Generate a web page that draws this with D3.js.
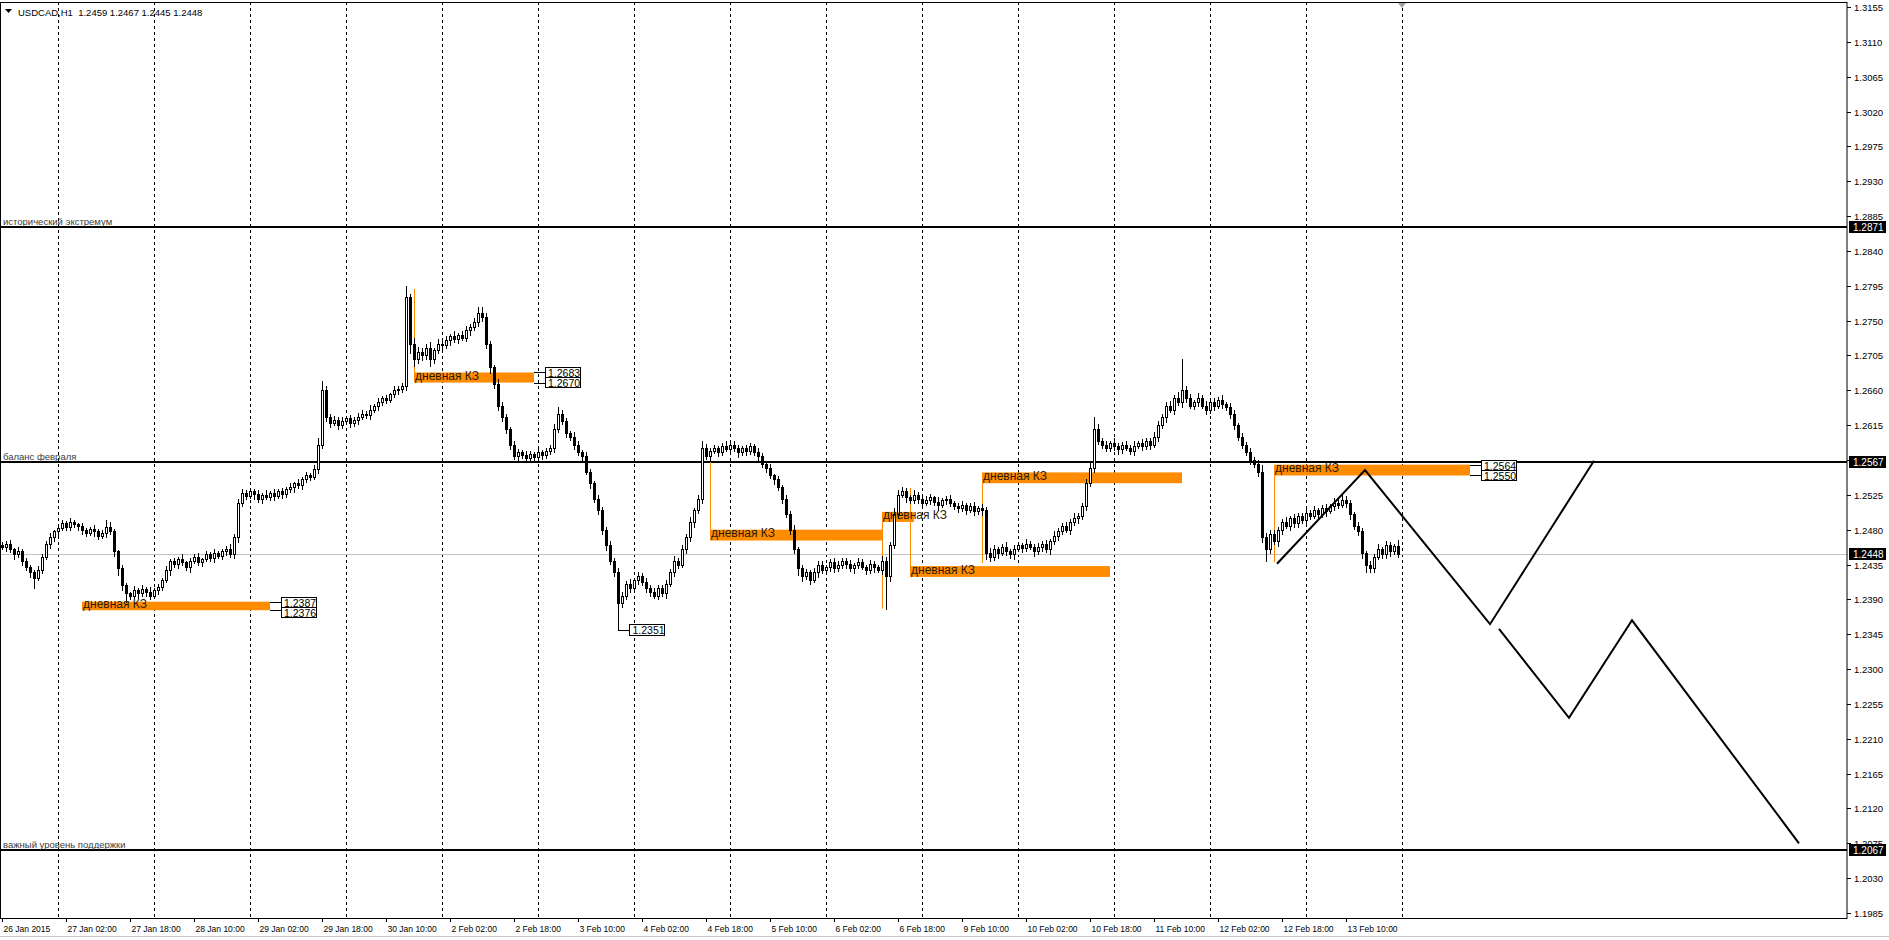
<!doctype html>
<html>
<head>
<meta charset="utf-8">
<script src="https://d3js.org/d3.v7.min.js"></script>
<style>
  body { margin: 0; background: #fff; }
  svg { display: block; font-family: "Liberation Sans", Arial, sans-serif; }
</style>
<title>USDCAD H1</title>
</head>
<body>
<svg width="1889" height="940"></svg>
<script>
// ---- data (prices in pips above 1.2000) ----
var symbol = "USDCAD,H1";
var lastQuote = [1.2459, 1.2467, 1.2445, 1.2448];
var firstBarTime = new Date(2015, 0, 26, 10, 0);
var firstOpen = 460;

var closes = [
  458,462,455,448,452,440,432,425,418,428,
  445,462,470,478,482,488,484,490,487,485,
  480,476,481,478,472,476,484,478,452,430,
  408,398,395,402,398,404,400,395,402,406,
  415,428,440,436,442,438,432,440,445,438,
  442,448,444,450,446,452,455,448,470,515,
  528,524,530,526,520,525,522,528,524,530,
  526,532,535,540,538,545,550,548,558,590,
  660,625,618,622,615,620,624,618,622,626,
  630,628,635,640,645,650,648,655,660,662,
  665,780,720,700,710,705,715,700,712,720,
  718,725,730,726,732,728,738,742,748,760,
  755,720,690,668,640,625,610,590,575,580,
  576,572,578,574,580,576,582,585,610,630,
  620,605,600,590,580,575,555,540,520,505,
  480,460,440,425,385,395,410,405,415,420,
  412,405,400,395,405,398,410,425,440,435,
  455,470,490,505,520,585,575,582,585,580,
  588,584,590,586,580,585,582,588,580,575,
  565,560,550,545,535,520,500,480,455,430,
  420,425,415,425,435,428,432,438,430,435,
  440,436,430,434,438,432,428,436,432,428,
  440,420,460,500,525,530,522,518,525,520,
  515,518,522,516,512,518,520,514,510,508,
  512,506,510,504,508,505,450,445,455,450,
  458,452,448,455,460,456,462,458,452,458,
  462,455,465,472,478,485,480,490,495,498,
  510,540,560,610,595,590,585,592,588,584,
  590,586,582,588,592,588,595,590,600,615,
  625,640,635,650,645,660,650,640,645,650,
  640,635,645,640,648,642,638,630,615,600,
  590,580,570,565,555,470,455,475,465,480,
  490,485,495,488,498,492,502,498,505,500,
  508,504,510,515,512,518,514,500,485,478,
  450,435,430,445,455,448,460,452,459,448
];
var wickUp = [
  4,3,5,2,6,3,4,2,3,5, 3,4,6,2,5,4,3,5,3,2, 4,2,3,5,3,4,8,6,3,2, 4,3,2,5,3,4,2,6,3,4,
  3,5,2,4,3,6,2,4,3,5, 2,4,3,5,2,3,4,6,5,4, 5,3,4,2,5,3,6,2,4,3, 4,3,5,2,6,3,4,3,5,8,
  12,6,4,5,3,6,2,4,3,5, 4,3,6,2,5,3,4,2,5,3, 4,15,5,8,6,4,5,7,3,6, 4,5,3,6,2,4,5,3,6,7,
  8,5,4,3,6,5,4,3,5,4, 3,5,4,2,6,3,4,5,6,8, 5,4,3,6,4,3,5,4,3,5, 4,3,5,4,6,5,4,6,3,5,
  4,6,3,5,4,3,5,4,6,3, 5,4,6,3,5,10,6,4,5,3, 4,6,3,5,4,3,5,4,3,5, 4,3,5,2,4,3,5,4,6,3,
  5,4,3,6,4,5,3,4,6,5, 3,4,5,3,6,4,3,5,4,3, 6,5,4,8,6,5,4,3,6,4, 3,5,4,2,6,3,4,5,3,4,
  5,3,4,6,3,5,4,6,5,3, 4,6,3,5,4,3,6,4,3,5, 4,5,3,6,4,3,5,4,6,3, 5,6,8,15,6,4,5,3,6,4,
  3,5,4,6,3,5,4,3,6,5, 4,5,6,4,8,40,6,5,3,6, 4,6,3,5,4,6,3,5,4,3, 5,3,6,4,5,8,6,4,5,3,
  4,6,3,5,4,3,6,4,5,3, 4,5,3,6,4,8,5,4,3,5, 4,3,5,4,6,3,5,4,3,8
];
var wickDown = [
  3,5,4,6,3,5,4,6,13,3, 4,3,5,4,6,3,5,4,3,6, 5,4,3,6,4,3,5,4,6,8, 6,12,5,3,6,4,5,4,3,5,
  4,3,6,4,5,3,4,6,3,4, 5,3,4,6,3,4,5,3,4,6, 4,5,3,6,4,5,3,4,6,3, 5,4,3,6,4,5,3,4,3,5,
  5,4,6,3,5,4,3,6,4,5, 3,4,5,3,6,4,5,3,4,5, 4,5,12,8,5,6,4,8,5,4, 5,3,6,4,5,3,4,6,4,5,
  5,6,8,5,6,4,5,6,4,5, 4,5,3,6,4,5,3,4,5,4, 3,5,4,6,4,5,3,6,4,5, 5,6,4,5,34,5,4,6,3,5,
  4,5,6,3,5,4,6,3,5,4, 3,5,4,6,3,5,4,6,3,5, 4,3,5,4,6,3,5,4,3,6, 4,5,3,6,4,5,3,6,5,8,
  6,4,5,3,6,4,3,5,4,3, 4,5,3,6,4,3,5,4,6,3, 5,42,6,4,5,3,6,4,3,5, 4,3,5,4,6,3,5,4,3,5,
  4,6,3,5,4,6,8,5,4,6, 3,5,4,6,3,5,4,3,6,4, 5,4,6,3,5,4,3,5,4,6, 4,5,3,6,4,5,3,4,5,6,
  5,3,4,6,3,5,4,6,3,5, 4,6,3,5,4,6,5,3,4,5, 3,5,4,6,3,5,4,6,5,4, 4,3,5,4,6,6,15,5,4,6,
  5,3,6,4,5,3,6,4,3,5, 4,6,3,5,4,3,5,6,4,5, 6,10,5,4,3,5,4,6,3,3
];

var priceTicks = [1.3155,1.3110,1.3065,1.3020,1.2975,1.2930,1.2885,1.2840,1.2795,1.2750,
  1.2705,1.2660,1.2615,1.2570,1.2525,1.2480,1.2435,1.2390,1.2345,1.2300,1.2255,1.2210,
  1.2165,1.2120,1.2075,1.2030,1.1985];
var timeLabels = ["26 Jan 2015","27 Jan 02:00","27 Jan 18:00","28 Jan 10:00","29 Jan 02:00",
  "29 Jan 18:00","30 Jan 10:00","2 Feb 02:00","2 Feb 18:00","3 Feb 10:00","4 Feb 02:00",
  "4 Feb 18:00","5 Feb 10:00","6 Feb 02:00","6 Feb 18:00","9 Feb 10:00","10 Feb 02:00",
  "10 Feb 18:00","11 Feb 10:00","12 Feb 02:00","12 Feb 18:00","13 Feb 10:00"];
var labelStep = 16; // bars between time labels

var levelPrices = [1.2871, 1.2567, 1.2067];
var levelNames = ["исторический экстремум", "баланс февраля", "важный уровень поддержки"];

// daily control zones ("дневная КЗ")
var zoneTop    = [1.2387, 1.2683, 1.2480, 1.2503, 1.2433, 1.2554, 1.2564];
var zoneBottom = [1.2376, 1.2670, 1.2466, 1.2490, 1.2419, 1.2540, 1.2550];
var zoneFrom   = [20, 103, 177, 220, 227, 245, 318];
var zoneTo     = [67, 133, 220, 228, 277, 295, 367];
var zoneReach  = [null, 1.2791, 1.2585, 1.2378, 1.2534, 1.2437, 1.2438];
var zoneTagged = [true, true, false, false, false, false, true];

var lowMark = [154, 1.2351];

// projected path (bar index, price)
var projA = [[318.75, 1.2436], [340.75, 1.2557], [372, 1.2358], [398, 1.2569]];
var projB = [[374.25, 1.2352], [391.75, 1.2237], [407.5, 1.2363], [449.25, 1.2075]];

// ---- layout ----
var svg = d3.select("svg");
var plotRight = 1847, plotTop = 2, plotBottom = 918;
var x = d3.scaleLinear().domain([0, 350]).range([2, 1402]);
var y = d3.scaleLinear().domain([1.1985, 1.3155]).range([913, 7]);
var orange = "#ff8c00";
var fmt = d3.format(".4f");

var bars = closes.map(function(c, i) {
  var o = i ? closes[i - 1] : firstOpen;
  return {
    i: i,
    o: 1.2 + o / 10000,
    c: 1.2 + c / 10000,
    h: 1.2 + (Math.max(o, c) + wickUp[i]) / 10000,
    l: 1.2 + (Math.min(o, c) - wickDown[i]) / 10000
  };
});

// bar times (hourly, weekends skipped)
var times = [];
var t = new Date(firstBarTime);
for (var k = 0; k <= closes.length; k++) {
  times.push(new Date(t));
  t = new Date(t.getTime() + 3600000);
  while (t.getDay() === 0 || t.getDay() === 6) t = new Date(t.getTime() + 3600000);
}

svg.append("rect").attr("width", 1889).attr("height", 940).attr("fill", "#fff");

svg.append("clipPath").attr("id", "plot")
  .append("rect").attr("x", 0).attr("y", plotTop).attr("width", plotRight).attr("height", plotBottom - plotTop);

var g = svg.append("g").attr("clip-path", "url(#plot)");

// day grid
var dayBars = d3.range(times.length).filter(function(i) { return i > 0 && times[i].getHours() === 0; });
g.selectAll(".grid").data(dayBars).enter().append("line")
  .attr("x1", function(d) { return Math.round(x(d)) + 0.5; })
  .attr("x2", function(d) { return Math.round(x(d)) + 0.5; })
  .attr("y1", plotTop).attr("y2", plotBottom)
  .attr("stroke", "#000").attr("stroke-dasharray", "3,3");

// bid line
g.append("line").attr("x1", 0).attr("x2", plotRight)
  .attr("y1", Math.round(y(lastQuote[3])) + 0.5).attr("y2", Math.round(y(lastQuote[3])) + 0.5)
  .attr("stroke", "#c0c0c0");

// key levels
levelPrices.forEach(function(p, i) {
  var yy = Math.round(y(p));
  g.append("line").attr("x1", 0).attr("x2", plotRight).attr("y1", yy).attr("y2", yy)
    .attr("stroke", "#000").attr("stroke-width", 2);
  g.append("text").attr("x", 3).attr("y", yy - 2)
    .attr("font-size", 9.5).attr("fill", "#3c3c3c").text(levelNames[i]);
});

// zones
zoneTop.forEach(function(top, i) {
  var x0 = x(zoneFrom[i]), x1 = x(zoneTo[i]);
  g.append("rect").attr("x", x0).attr("y", y(top))
    .attr("width", x1 - x0).attr("height", y(zoneBottom[i]) - y(top))
    .attr("fill", orange);
  if (zoneReach[i] !== null) {
    var mid = (top + zoneBottom[i]) / 2;
    g.append("line").attr("x1", Math.round(x0) + 0.5).attr("x2", Math.round(x0) + 0.5)
      .attr("y1", y(mid)).attr("y2", y(zoneReach[i]))
      .attr("stroke", orange).attr("stroke-width", 1);
  }
});

// candles
var cg = g.append("g");
bars.forEach(function(b) {
  var cx = Math.round(x(b.i));
  cg.append("line").attr("x1", cx + 0.5).attr("x2", cx + 0.5)
    .attr("y1", Math.round(y(b.h))).attr("y2", Math.round(y(b.l)) + 1)
    .attr("stroke", "#000");
  var yt = Math.round(y(Math.max(b.o, b.c))), yb = Math.round(y(Math.min(b.o, b.c)));
  if (yb - yt < 1) {
    cg.append("rect").attr("x", cx - 1).attr("y", yt).attr("width", 3).attr("height", 1).attr("fill", "#000");
  } else if (b.c > b.o) {
    cg.append("rect").attr("x", cx - 0.5).attr("y", yt + 0.5).attr("width", 2).attr("height", yb - yt)
      .attr("fill", "#fff").attr("stroke", "#000");
  } else {
    cg.append("rect").attr("x", cx - 1).attr("y", yt).attr("width", 3).attr("height", yb - yt + 1)
      .attr("fill", "#000");
  }
});

// zone captions and price tags
zoneTop.forEach(function(top, i) {
  var x0 = x(zoneFrom[i]), x1 = x(zoneTo[i]);
  g.append("text").attr("x", x0 + 1).attr("y", (y(top) + y(zoneBottom[i])) / 2 + 2)
    .attr("font-size", 12).attr("fill", "#2a1a08").text("дневная КЗ");
  if (!zoneTagged[i]) return;
  var yA = Math.round(y(top)), yB = Math.round(y(zoneBottom[i]));
  var bx = x1 + 11, bw = 35, bh = 10;
  var tops = [yA - 5, yA + 5];
  [top, zoneBottom[i]].forEach(function(p, j) {
    var yl = (j ? yB : yA) + 0.5;
    g.append("line").attr("x1", x1).attr("x2", bx).attr("y1", yl).attr("y2", yl).attr("stroke", "#000");
    g.append("rect").attr("x", Math.round(bx) + 0.5).attr("y", tops[j] + 0.5).attr("width", bw).attr("height", bh)
      .attr("fill", "#fff").attr("stroke", "#000");
    g.append("text").attr("x", bx + 3).attr("y", tops[j] + bh - 0.5)
      .attr("font-size", 10.5).attr("fill", "#000").text(fmt(p));
  });
});

// low tag
(function() {
  var lx = Math.round(x(lowMark[0])) + 0.5, ly = Math.round(y(lowMark[1])) + 0.5;
  g.append("line").attr("x1", lx).attr("x2", lx + 11).attr("y1", ly).attr("y2", ly).attr("stroke", "#000");
  g.append("rect").attr("x", lx + 11).attr("y", ly - 6).attr("width", 35).attr("height", 11)
    .attr("fill", "#fff").attr("stroke", "#000");
  g.append("text").attr("x", lx + 14).attr("y", ly + 3.5).attr("font-size", 10.5).text(fmt(lowMark[1]));
})();

// projection zigzags
var line = d3.line().x(function(d) { return x(d[0]); }).y(function(d) { return y(d[1]); });
[projA, projB].forEach(function(p) {
  g.append("path").attr("d", line(p)).attr("fill", "none").attr("stroke", "#000").attr("stroke-width", 2);
});

// chart shift marker
svg.append("path").attr("d", "M" + (x(350) - 4) + ",3 h8 l-4,5 z").attr("fill", "#a0a0a0");

// frame
svg.append("rect").attr("x", 0.5).attr("y", plotTop + 0.5).attr("width", plotRight - 0.5).attr("height", plotBottom - plotTop)
  .attr("fill", "none").attr("stroke", "#000");

// price axis
var ax = svg.append("g");
priceTicks.forEach(function(p) {
  var yy = Math.round(y(p)) + 0.5;
  ax.append("line").attr("x1", plotRight).attr("x2", plotRight + 4).attr("y1", yy).attr("y2", yy).attr("stroke", "#000");
  ax.append("text").attr("x", plotRight + 7).attr("y", yy + 3.5).attr("font-size", 9.5).attr("fill", "#000").text(fmt(p));
});
levelPrices.concat([lastQuote[3]]).forEach(function(p) {
  var yy = Math.round(y(p));
  ax.append("rect").attr("x", plotRight + 2).attr("y", yy - 6).attr("width", 37).attr("height", 12).attr("fill", "#000");
  ax.append("text").attr("x", plotRight + 6).attr("y", yy + 4).attr("font-size", 10).attr("fill", "#fff").text(fmt(p));
});

// time axis
timeLabels.forEach(function(s, i) {
  var xx = Math.round(x(i * labelStep)) + 0.5;
  svg.append("line").attr("x1", xx).attr("x2", xx).attr("y1", plotBottom).attr("y2", plotBottom + 4).attr("stroke", "#000");
  svg.append("text").attr("x", xx + 1).attr("y", plotBottom + 14).attr("font-size", 8.5).attr("fill", "#000").text(s);
});

// header
svg.append("path").attr("d", "M5,9 h7 l-3.5,4 z").attr("fill", "#000");
svg.append("text").attr("x", 18).attr("y", 16).attr("font-size", 9.5).attr("fill", "#000")
  .attr("xml:space", "preserve")
  .text(symbol + "  " + lastQuote.map(fmt).join(" "));

// bottom tabs strip
svg.append("line").attr("x1", 0).attr("x2", 1889).attr("y1", 936.5).attr("y2", 936.5).attr("stroke", "#c8c8c8");
</script>
</body>
</html>
